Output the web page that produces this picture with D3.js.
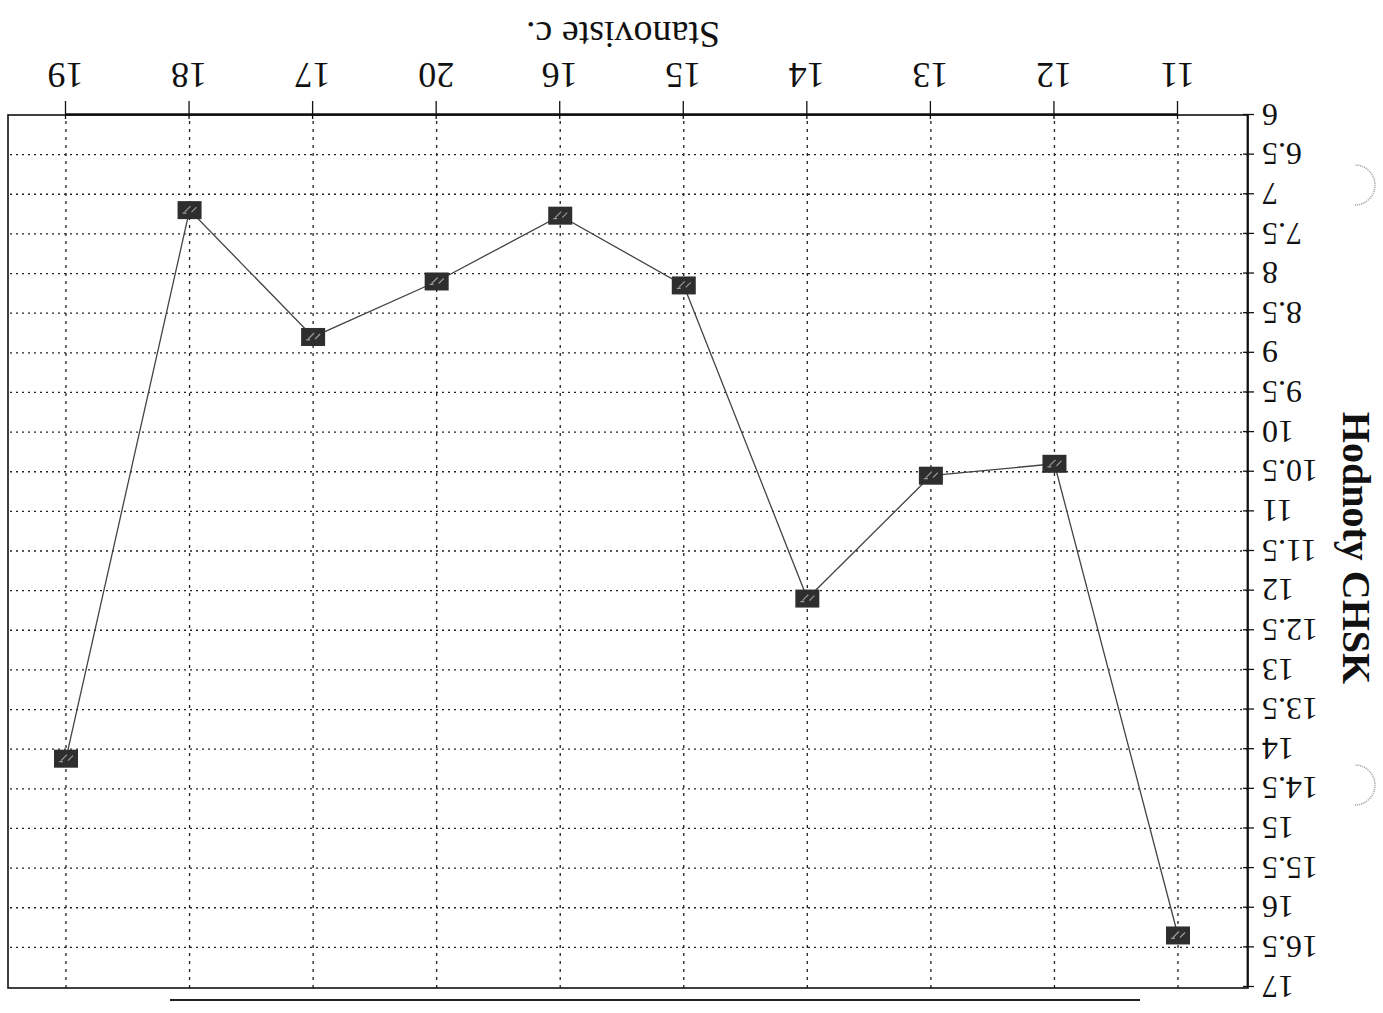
<!DOCTYPE html>
<html>
<head>
<meta charset="utf-8">
<script src="https://cdn.jsdelivr.net/npm/d3@7"></script>
<style>
  body { margin: 0; background: #fff; }
  svg { display: block; }
  .axis path, .axis line { stroke: #111; }
  .axis text { font-family: "Liberation Serif", "DejaVu Serif", serif; fill: #111; }
  .grid line { stroke: #222; stroke-width: 1.3; }
</style>
</head>
<body>
<div id="chart"></div>
<script>
// stations in the order they appear on the x axis
const stations = ["11", "12", "13", "14", "15", "16", "20", "17", "18", "19"];
const chskValues = [16.35, 10.4, 10.55, 12.1, 8.15, 7.27, 8.1, 8.8, 7.2, 14.12];
const yTicks = [6, 6.5, 7, 7.5, 8, 8.5, 9, 9.5, 10, 10.5, 11, 11.5, 12, 12.5, 13, 13.5, 14, 14.5, 15, 15.5, 16, 16.5, 17];
const yGrid = [6.5, 7, 7.5, 8, 8.5, 9, 9.5, 10, 10.5, 11, 11.5, 12, 12.5, 13, 13.5, 14, 14.5, 15, 15.5, 16, 16.5];

const W = 1383, H = 1013;
const plot = { left: 135, right: 1375, top: 25, bottom: 898 };

let data = stations.map((s, i) => ({ station: s, value: chskValues[i] }));

let svg = d3.select("#chart").append("svg")
    .attr("width", W)
    .attr("height", H);

// the scanned sheet is upside down, so the whole chart is turned 180 degrees
let g = svg.append("g")
    .attr("transform", "rotate(180," + W / 2 + "," + H / 2 + ")");

let xScale = d3.scalePoint()
    .domain(stations)
    .range([205, 1317]);

let yScale = d3.scaleLinear()
    .domain([6, 17])
    .range([plot.bottom, 26]);

// gridlines
g.append("g").attr("class", "grid")
  .selectAll("line.h")
  .data(yGrid)
  .enter().append("line")
    .attr("x1", plot.left).attr("x2", plot.right)
    .attr("y1", d => yScale(d)).attr("y2", d => yScale(d))
    .attr("stroke-dasharray", "2,4");

g.append("g").attr("class", "grid")
  .selectAll("line.v")
  .data(stations)
  .enter().append("line")
    .attr("x1", d => xScale(d)).attr("x2", d => xScale(d))
    .attr("y1", plot.top).attr("y2", plot.bottom)
    .attr("stroke-dasharray", "3,5");

// frame
g.append("rect")
    .attr("x", plot.left).attr("y", plot.top)
    .attr("width", plot.right - plot.left)
    .attr("height", plot.bottom - plot.top)
    .attr("fill", "none")
    .attr("stroke", "#111")
    .attr("stroke-width", 1.6);

// x axis
let xAxis = d3.axisBottom(xScale).tickSizeOuter(0);
let xAxisGroup = g.append("g")
    .attr("class", "axis axis--x")
    .attr("transform", "translate(0," + plot.bottom + ")")
    .call(xAxis);
xAxisGroup.select(".domain").attr("stroke-width", 2.6);
xAxisGroup.selectAll("line").attr("y1", -4).attr("y2", 14).attr("stroke-width", 1.3);
xAxisGroup.selectAll("text")
    .attr("y", 26)
    .attr("dy", "0.71em")
    .style("font-size", "36px");

// y axis
let yAxis = d3.axisLeft(yScale).tickValues(yTicks).tickSizeOuter(0).tickFormat(d => d);
let yAxisGroup = g.append("g")
    .attr("class", "axis axis--y")
    .attr("transform", "translate(" + plot.left + ",0)")
    .call(yAxis);
yAxisGroup.select(".domain").attr("stroke-width", 1.8);
yAxisGroup.selectAll("line").attr("x1", 5).attr("x2", -6).attr("stroke-width", 1.3);
yAxisGroup.selectAll("text")
    .attr("x", -14)
    .attr("dy", "0.34em")
    .style("font-size", "32px");

// data line and markers
let line = d3.line()
    .x(d => xScale(d.station))
    .y(d => yScale(d.value));

g.append("path")
    .datum(data)
    .attr("d", line)
    .attr("fill", "none")
    .attr("stroke", "#444")
    .attr("stroke-width", 1.3);

g.selectAll(".marker")
  .data(data)
  .enter().append("rect")
    .attr("class", "marker")
    .attr("x", d => xScale(d.station) - 12)
    .attr("y", d => yScale(d.value) - 9)
    .attr("width", 24)
    .attr("height", 18)
    .attr("fill", "#2e2e2e");

g.selectAll(".marker-hatch")
  .data(data)
  .enter().append("path")
    .attr("class", "marker-hatch")
    .attr("d", d => {
      let x = xScale(d.station), y = yScale(d.value);
      return "M" + (x - 7) + "," + (y + 3) + "l5,-5 M" + (x - 1) + "," + (y + 4) + "l6,-6 M" + (x + 3) + "," + (y - 3) + "l4,0";
    })
    .attr("stroke", "#9a9a9a")
    .attr("stroke-width", 1.2);

// axis titles
g.append("text")
    .attr("x", 760)
    .attr("y", 991)
    .attr("text-anchor", "middle")
    .style("font-family", "'Liberation Serif', serif")
    .style("font-size", "38px")
    .attr("fill", "#111")
    .text("Stanoviste c.");

g.append("text")
    .attr("transform", "translate(40,465) rotate(-90)")
    .attr("text-anchor", "middle")
    .style("font-family", "'Liberation Serif', serif")
    .style("font-size", "40px")
    .style("font-weight", "bold")
    .attr("fill", "#111")
    .text("Hodnoty CHSK");

// line above the chart on the sheet
g.append("line")
    .attr("x1", 243).attr("x2", 1213)
    .attr("y1", 13).attr("y2", 13)
    .attr("stroke", "#222")
    .attr("stroke-width", 2);

// punched holes at the sheet edge
g.selectAll(".hole")
  .data([228, 828])
  .enter().append("path")
    .attr("class", "hole")
    .attr("d", d => "M28," + (d - 20) + " A20,20 0 0,0 28," + (d + 20))
    .attr("fill", "none")
    .attr("stroke", "#999")
    .attr("stroke-width", 1.5)
    .attr("stroke-dasharray", "1,1");
</script>
</body>
</html>
